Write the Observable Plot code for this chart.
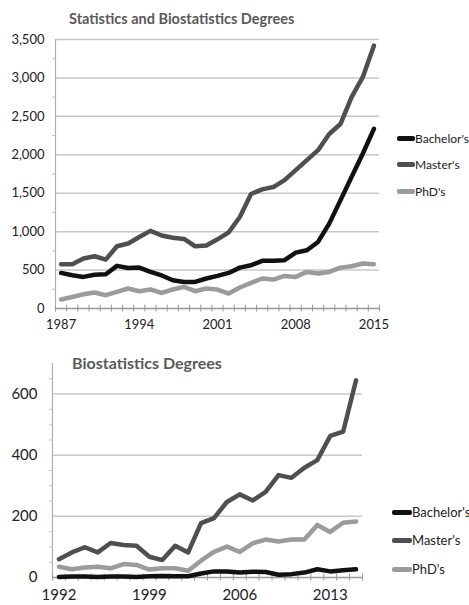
<!DOCTYPE html>
<html>
<head>
<meta charset="utf-8">
<script src="https://cdn.jsdelivr.net/npm/d3@7"></script>
<script src="https://cdn.jsdelivr.net/npm/@observablehq/plot@0.6"></script>
<style>
  body { margin: 0; background: #fff; }
  #wrap { position: relative; width: 469px; height: 605px; font-family: Lato, "Open Sans", sans-serif; }
  .title { position: absolute; font-weight: bold; color: #5a5a5a; white-space: nowrap; }
  .leg { position: absolute; display: flex; align-items: center; color: #222; white-space: nowrap; }
  .leg span.sw { display: inline-block; height: 5px; border-radius: 2px; }
  svg { position: absolute; left: 0; }
</style>
</head>
<body>
<div id="wrap"></div>
<script>
// ---- Data: Statistics and Biostatistics Degrees (1987–2015)
const years1 = d3.range(1987, 2016);
const bachelors1 = [463,433,411,440,446,555,528,532,476,430,368,346,346,390,424,463,532,563,620,620,628,727,758,866,1104,1407,1710,2013,2338];
const masters1   = [576,576,650,680,636,810,845,930,1010,950,920,905,810,820,900,990,1190,1490,1550,1580,1670,1800,1930,2060,2270,2400,2750,3010,3420];
const phd1       = [117,150,186,208,173,216,260,225,247,203,247,281,225,260,247,195,273,333,390,377,424,411,476,455,476,532,550,585,576];
const xLabels1 = [1987, 1994, 2001, 2008, 2015];
const yTicks1 = [0, 500, 1000, 1500, 2000, 2500, 3000, 3500];

// ---- Data: Biostatistics Degrees (1992–2015)
const years2 = d3.range(1992, 2016);
const bachelors2 = [2,3,3,2,3,3,2,4,5,4,4,13,20,20,16,19,18,9,11,16,27,20,24,27];
const masters2   = [60,82,99,82,113,106,104,68,57,104,82,178,194,247,272,252,280,335,326,359,384,463,477,645];
const phd2       = [35,27,33,35,30,44,41,26,30,30,22,55,84,101,84,112,124,118,124,124,172,149,179,183];
const xLabels2 = [1992, 1999, 2006, 2013];
const yTicks2 = [0, 200, 400, 600];

const seriesNames = ["Bachelor's", "Master's", "PhD's"];
const seriesColors = ["#111111", "#4f4f4f", "#9b9b9b"];

function tidy(years, arrays) {
  const rows = [];
  arrays.forEach((arr, s) => arr.forEach((v, i) => rows.push({year: years[i], value: v, series: seriesNames[s]})));
  return rows;
}

function chart({years, arrays, yMax, yTicks, minorStep, xLabels, height, marginLeft, marginRight, marginTop, marginBottom, fontSize, yPad, xPad}) {
  const x0 = years[0] - 0.5, x1 = years[years.length - 1] + 0.5;
  const boundaries = d3.range(years.length + 1).map(i => x0 + i);
  const minor = d3.range(minorStep, yMax, minorStep).filter(v => !yTicks.includes(v));
  const data = tidy(years, arrays);
  return Plot.plot({
    width: 469, height, marginLeft, marginRight, marginTop, marginBottom,
    style: {fontFamily: "Lato, 'Open Sans', sans-serif", color: "#222", background: "transparent"},
    x: {domain: [x0, x1], axis: null, label: null},
    y: {domain: [0, yMax], axis: null, label: null},
    color: {domain: seriesNames, range: seriesColors},
    marks: [
      Plot.ruleY(yTicks.filter(v => v > 0), {stroke: "#c8c8c8", strokeWidth: 1.5}),
      Plot.ruleX([x0], {stroke: "#b0b0b0", strokeWidth: 1.2}),
      Plot.axisY({ticks: minor, tickSize: 3, tickFormat: () => "", stroke: "#c0c0c0", label: null}),
      Plot.ruleY([0], {stroke: "#9a9a9a", strokeWidth: 1.5}),
      Plot.axisX({ticks: boundaries, tickSize: 7, dy: -3.5, tickFormat: () => "", stroke: "#999", label: null}),
      Plot.line(data, {x: "year", y: "value", z: "series", stroke: "series", strokeWidth: 4.5, strokeLinejoin: "round", strokeLinecap: "round"}),
      Plot.axisY({ticks: yTicks, tickSize: 0, tickPadding: yPad, tickFormat: d3.format(","), fontSize, fill: "#222", label: null}),
      Plot.axisX({ticks: xLabels, tickSize: 0, tickPadding: xPad, tickFormat: d => String(d), fontSize, fill: "#222", label: null})
    ]
  });
}

const wrap = document.getElementById("wrap");

const svg1 = chart({years: years1, arrays: [bachelors1, masters1, phd1], yMax: 3500, yTicks: yTicks1, minorStep: 250,
  xLabels: xLabels1, height: 335, marginLeft: 55, marginRight: 90, marginTop: 39, marginBottom: 27, fontSize: 13, yPad: 11, xPad: 11});
svg1.style.top = "0px";
wrap.appendChild(svg1);

const svg2 = chart({years: years2, arrays: [bachelors2, masters2, phd2], yMax: 700, yTicks: yTicks2, minorStep: 50,
  xLabels: xLabels2, height: 270, marginLeft: 52, marginRight: 107, marginTop: 28, marginBottom: 28, fontSize: 15, yPad: 15, xPad: 12});
svg2.style.top = "335px";
wrap.appendChild(svg2);

function addTitle(text, left, top, size) {
  const d = document.createElement("div");
  d.className = "title"; d.textContent = text;
  d.style.left = left + "px"; d.style.top = top + "px"; d.style.fontSize = size + "px";
  wrap.appendChild(d);
}
addTitle("Statistics and Biostatistics Degrees", 69, 10, 14.5);
addTitle("Biostatistics Degrees", 72, 353, 16);

function addLegend(left, tops, size, swW) {
  seriesNames.forEach((name, i) => {
    const d = document.createElement("div");
    d.className = "leg";
    d.style.left = left + "px"; d.style.top = tops[i] + "px"; d.style.fontSize = size + "px";
    const sw = document.createElement("span");
    sw.className = "sw"; sw.style.width = swW + "px"; sw.style.background = seriesColors[i];
    const t = document.createElement("span"); t.textContent = name;
    d.appendChild(sw); d.appendChild(t);
    wrap.appendChild(d);
  });
}
addLegend(397, [131, 157, 184], 12, 18);
addLegend(392, [504, 532, 561], 13, 20);
</script>
</body>
</html>
